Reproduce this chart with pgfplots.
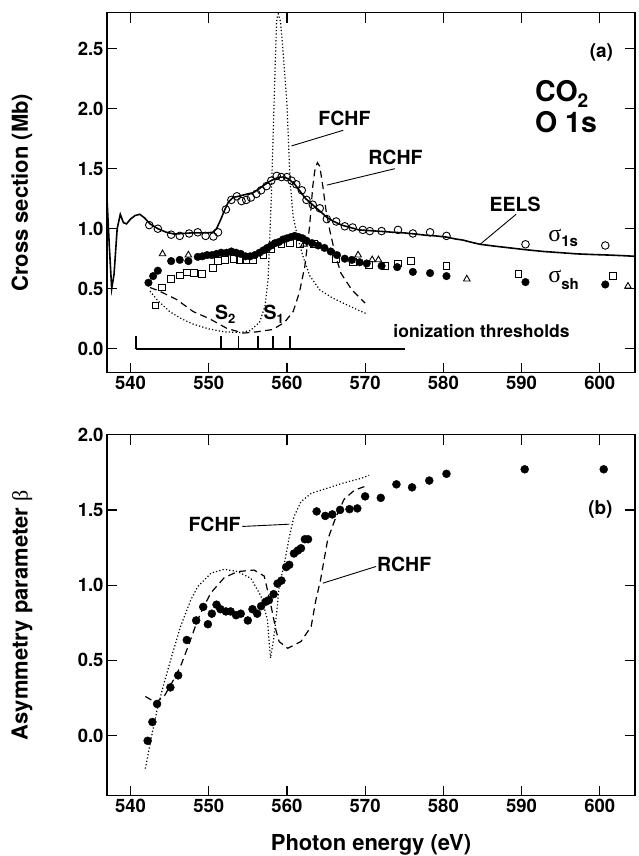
\documentclass[border=0pt]{standalone}
\usepackage{pgfplots}
\pgfplotsset{compat=1.18}
\usepackage{fontspec}
\setmainfont{TeX Gyre Heros}
\newfontfamily\grk{Liberation Serif}
\newcommand{\fs}[1]{\fontsize{#1}{#1}\selectfont}
\tikzset{
  lab/.style={font=\bfseries\fs{19.5}, inner sep=0pt, anchor=base west},
  dotc/.style={black, line width=1.2pt, dash pattern=on 1.2pt off 2.2pt},
  dashc/.style={black, line width=1.2pt, dash pattern=on 7pt off 4.5pt},
}
\pgfplotsset{
  panel/.style={
    scale only axis, width=528pt, xmin=537, xmax=604.5,
    axis line style={line width=1.4pt}, tick style={line width=1.2pt, black},
    major tick length=10pt, tick align=inside,
    xtick={540,550,...,600},
    /pgf/number format/assume math mode=true,
    ticklabel style={font=\bfseries\fs{18.5}},
    yticklabel style={/pgf/number format/fixed, /pgf/number format/fixed zerofill, /pgf/number format/precision=1},
    xticklabel style={/pgf/number format/1000 sep={}},
    label style={font=\bfseries\fs{22}},
  },
}
\begin{document}
\begin{tikzpicture}[x=1pt,y=1pt]
\useasboundingbox (0,0) rectangle (639,856);
% ---------------- top panel ----------------
\begin{axis}[panel, at={(107pt,483.3pt)}, anchor=south west, height=360pt,
  ymin=-0.2, ymax=2.8, ytick={0,0.5,...,2.5},
  ylabel={Cross section (Mb)},
  ylabel style={at={(axis description cs:-0.161,0.5)}, anchor=center}]
% EELS
\addplot[black, line width=1.6pt] coordinates {
(537.0,1.25)(537.3,0.85)(537.6,0.50)(537.9,0.62)(538.3,1.00)(538.7,1.12)(539.1,1.05)(539.5,1.04)
(540.0,1.08)(540.6,1.11)(541.2,1.12)(541.8,1.09)(542.5,1.04)(543.5,1.00)(544.6,0.97)(545.6,0.955)
(546.7,0.96)(547.8,0.965)(548.8,0.965)(549.8,0.965)(550.5,0.97)(551.0,1.00)(551.5,1.07)(552.0,1.15)
(552.5,1.22)(553.1,1.26)(553.8,1.27)(554.4,1.28)(555.0,1.29)(555.7,1.30)(556.4,1.33)(557.0,1.36)
(557.7,1.39)(558.3,1.41)(559.0,1.43)(559.7,1.43)(560.3,1.41)(561.0,1.37)(561.7,1.31)(562.4,1.25)
(563.1,1.21)(563.8,1.17)(564.5,1.13)(565.2,1.09)(566.0,1.06)(567.0,1.03)(568.1,1.01)(569.2,0.99)
(570.3,0.985)(571.5,0.98)(572.6,0.975)(573.6,0.97)(575.0,0.965)(576.5,0.955)(577.8,0.945)(579.0,0.94)
(580.4,0.93)(581.5,0.915)(582.5,0.905)(583.7,0.885)(584.7,0.87)(586.5,0.855)(588.5,0.84)(590.5,0.825)
(592.8,0.81)(595.0,0.80)(597.1,0.79)(599.0,0.785)(601.3,0.78)(603.0,0.775)(604.5,0.77)};
% FCHF
\addplot[dotc] coordinates {
(542.5,0.48)(543.5,0.40)(545.0,0.31)(546.5,0.25)(548.0,0.205)(550.0,0.165)(552.0,0.14)(554.0,0.135)
(555.3,0.15)(556.5,0.22)(557.2,0.355)(557.6,0.58)(558.0,1.25)(558.5,2.36)(558.7,2.75)(558.9,2.79)
(559.2,2.72)(559.6,2.40)(560.0,2.05)(560.4,1.40)(560.8,1.10)(561.3,0.95)(562.0,0.78)(562.9,0.61)
(564.2,0.49)(565.9,0.42)(568.5,0.34)(570.2,0.29)};
% RCHF
\addplot[dashc] coordinates {
(542.5,0.51)(543.7,0.48)(545.9,0.41)(548.0,0.31)(550.1,0.25)(552.3,0.17)(554.4,0.13)(556.1,0.14)
(558.2,0.16)(559.7,0.22)(560.8,0.31)(561.6,0.47)(562.3,0.69)(562.9,1.02)(563.3,1.35)(563.6,1.50)
(563.9,1.55)(564.2,1.52)(564.6,1.35)(565.0,1.15)(565.5,0.98)(566.2,0.78)(566.9,0.63)(568.3,0.49)(570.0,0.38)};
% sigma 1s (open circles)
\addplot[only marks, mark=o, mark size=3.8pt, mark options={line width=0.9pt, black}] coordinates {
(542.4,1.03)(543.5,1.00)(545.2,0.95)(546.3,0.94)(547.5,0.96)(548.6,0.97)(549.6,0.94)(550.6,0.935)
(551.2,0.97)(552.2,1.16)(552.9,1.24)(553.6,1.27)(554.2,1.23)(554.8,1.24)(555.4,1.26)(556.1,1.29)
(556.7,1.32)(557.4,1.355)(558.0,1.40)(558.7,1.44)(559.3,1.43)(560.0,1.43)(560.6,1.40)(561.2,1.37)
(561.9,1.32)(562.5,1.24)(563.3,1.20)(564.2,1.17)(565.1,1.08)(566.3,1.06)(567.4,1.02)(568.4,1.01)
(569.7,0.99)(570.6,0.98)(572.1,0.98)(574.2,0.99)(576.1,0.96)(578.3,0.97)(580.4,0.94)(590.5,0.87)(600.7,0.86)};
% squares
\addplot[only marks, mark=square, mark size=3.4pt, mark options={line width=0.9pt, black}] coordinates {
(543.2,0.36)(544.0,0.51)(545.2,0.58)(546.3,0.61)(547.2,0.635)(548.1,0.63)(549.1,0.62)(550.5,0.67)
(551.2,0.73)(552.1,0.74)(553.2,0.75)(554.0,0.74)(554.8,0.74)(555.7,0.74)(557.0,0.78)(558.0,0.83)
(559.3,0.87)(560.4,0.88)(561.7,0.87)(563.5,0.87)(566.3,0.75)(568.4,0.72)(570.5,0.70)(572.5,0.69)
(574.2,0.71)(575.9,0.73)(580.4,0.69)(589.6,0.62)(601.7,0.605)};
% triangles
\addplot[only marks, mark=triangle, mark size=3.8pt, mark options={line width=0.9pt, black}] coordinates {
(544.1,0.79)(547.4,0.78)(562.2,0.87)(569.1,0.78)(570.9,0.74)(571.7,0.74)(583.0,0.58)(603.6,0.52)};
% sigma sh (filled circles)
\addplot[only marks, mark=*, mark size=3.8pt, mark options={black, fill=black}] coordinates {
(542.3,0.55)(542.9,0.605)(543.5,0.65)(545.2,0.73)(546.3,0.74)(547.4,0.73)(548.6,0.765)(549.2,0.77)
(549.8,0.78)(550.4,0.78)(551.0,0.79)(551.6,0.80)(552.3,0.80)(552.9,0.81)(553.5,0.80)(554.1,0.79)
(554.7,0.77)(555.3,0.77)(555.9,0.78)(556.5,0.80)(557.0,0.82)(557.5,0.84)(558.0,0.86)(558.5,0.88)
(559.0,0.89)(559.5,0.91)(560.0,0.92)(560.5,0.93)(561.0,0.94)(561.5,0.93)(562.0,0.92)(562.5,0.90)
(563.2,0.88)(564.0,0.86)(564.8,0.84)(565.6,0.81)(566.4,0.78)(567.4,0.75)(568.3,0.74)(569.3,0.72)
(570.2,0.71)(572.1,0.69)(574.1,0.68)(576.1,0.64)(578.3,0.63)(580.4,0.605)(590.5,0.555)(600.7,0.535)};
% ionization thresholds
\addplot[black, line width=1.8pt] coordinates {(540.7,0) (575.1,0)};
\addplot[black, line width=1.8pt] coordinates {(540.7,0) (540.7,0.105)};
\addplot[black, line width=1.8pt] coordinates {(551.6,0) (551.6,0.105)};
\addplot[black, line width=1.8pt] coordinates {(553.8,0) (553.8,0.105)};
\addplot[black, line width=1.8pt] coordinates {(556.3,0) (556.3,0.105)};
\addplot[black, line width=1.8pt] coordinates {(558.2,0) (558.2,0.105)};
\addplot[black, line width=1.8pt] coordinates {(560.4,0) (560.4,0.105)};
% labels
\node[lab] at (axis cs:564.0,1.861) {FCHF};
\draw[line width=0.9pt] (axis cs:567.2,1.82) -- (axis cs:560.6,1.69);
\node[lab] at (axis cs:570.4,1.536) {RCHF};
\draw[line width=0.9pt] (axis cs:573.8,1.50) -- (axis cs:565.1,1.363);
\node[lab] at (axis cs:585.9,1.147) {EELS};
\draw[line width=0.9pt] (axis cs:589.3,1.12) -- (axis cs:584.7,0.87);
\node[lab] at (axis cs:593.4,0.89) {{\grk\mdseries\fs{24}σ}\raisebox{-5pt}{\fs{15}1s}};
\node[lab] at (axis cs:593.4,0.55) {{\grk\mdseries\fs{24}σ}\raisebox{-7pt}{\fs{15}sh}};
\node[lab] at (axis cs:550.8,0.244) {S\raisebox{-4pt}{\fs{13}2}};
\node[lab] at (axis cs:557.0,0.244) {S\raisebox{-4pt}{\fs{13}1}};
\node[lab, font=\bfseries\fs{17.5}] at (axis cs:573.6,0.092) {ionization thresholds};
\node[lab, font=\bfseries\fs{19}] at (axis cs:598.7,2.425) {(a)};
\node[lab, font=\bfseries\fs{28.5}] at (axis cs:591.7,2.063) {CO\raisebox{-6pt}{\fs{19}2}};
\node[lab, font=\bfseries\fs{28.5}] at (axis cs:591.7,1.80) {O 1s};
\end{axis}
% ---------------- bottom panel ----------------
\begin{axis}[panel, at={(107pt,60.3pt)}, anchor=south west, height=361pt,
  ymin=-0.4, ymax=2.0, ytick={0,0.5,...,2.0},
  xlabel={Photon energy (eV)},
  xlabel style={at={(axis description cs:0.5,-0.136)}, anchor=center},
  ylabel={Asymmetry parameter {\grk\mdseries β}},
  ylabel style={at={(axis description cs:-0.161,0.5)}, anchor=center}]
% FCHF
\addplot[dotc] coordinates {
(541.9,-0.22)(542.6,-0.03)(543.4,0.17)(544.3,0.35)(545.4,0.55)(546.4,0.725)(547.7,0.90)(548.6,0.99)
(550.3,1.08)(552.0,1.105)(553.7,1.09)(555.4,1.045)(556.7,0.925)(557.5,0.77)(557.9,0.515)(558.3,0.64)
(558.7,0.82)(559.0,0.99)(559.7,1.15)(560.3,1.32)(560.9,1.455)(561.8,1.555)(563.1,1.61)(565.2,1.645)
(567.3,1.68)(569.5,1.71)(570.5,1.73)};
% RCHF
\addplot[dashc] coordinates {
(541.9,0.26)(543.2,0.22)(544.3,0.26)(545.4,0.36)(546.4,0.46)(547.5,0.61)(548.6,0.77)(549.4,0.86)
(550.3,0.95)(552.0,1.05)(553.7,1.09)(555.8,1.10)(557.1,1.06)(557.9,0.88)(558.6,0.70)(559.0,0.625)
(560.1,0.58)(561.8,0.625)(563.1,0.725)(563.7,0.90)(564.3,1.035)(565.2,1.30)(566.1,1.43)(567.3,1.57)
(568.6,1.63)(569.9,1.655)};
% beta
\addplot[only marks, mark=*, mark size=4pt, mark options={black, fill=black}] coordinates {
(542.2,-0.035)(542.8,0.09)(543.4,0.21)(545.1,0.32)(546.1,0.40)(547.2,0.635)(548.4,0.765)(549.3,0.855)
(549.9,0.74)(550.4,0.81)(551.0,0.87)(551.5,0.84)(552.2,0.825)(552.8,0.825)(553.5,0.80)(554.1,0.81)
(555.0,0.765)(555.6,0.84)(556.2,0.81)(556.7,0.86)(557.3,0.89)(557.7,0.90)(558.3,0.94)(558.8,1.01)
(559.3,1.03)(559.9,1.12)(560.3,1.135)(560.9,1.21)(561.4,1.23)(561.8,1.245)(562.3,1.305)(562.7,1.305)
(563.8,1.49)(564.9,1.46)(565.8,1.47)(566.8,1.50)(568.0,1.505)(569.0,1.51)(570.0,1.59)(572.0,1.58)
(574.0,1.67)(576.0,1.65)(578.2,1.695)(580.4,1.74)(590.4,1.77)(600.5,1.77)};
\node[lab] at (axis cs:547.4,1.356) {FCHF};
\draw[line width=0.9pt] (axis cs:554.3,1.39) -- (axis cs:560.3,1.405);
\node[lab] at (axis cs:571.5,1.09) {RCHF};
\draw[line width=0.9pt] (axis cs:571.4,1.124) -- (axis cs:564.6,1.013);
\node[lab, font=\bfseries\fs{19}] at (axis cs:598.5,1.467) {(b)};
\end{axis}
\end{tikzpicture}
\end{document}
